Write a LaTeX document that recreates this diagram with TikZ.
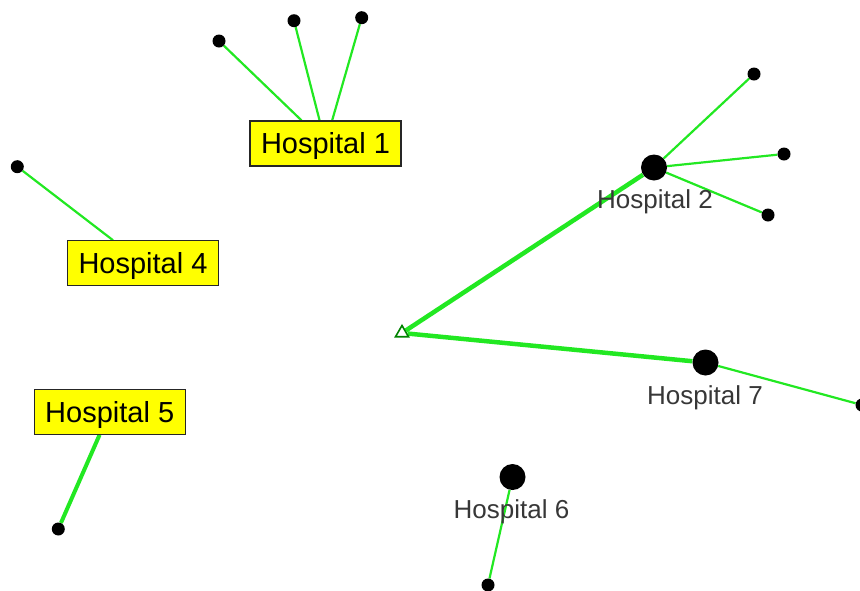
\documentclass[tikz,border=0pt]{standalone}
\usepackage{fontspec}
\setmainfont{Liberation Sans}
\usetikzlibrary{shapes.geometric,backgrounds}
\definecolor{edgegreen}{RGB}{34,232,34}
\definecolor{rootgreen}{RGB}{0,130,0}
\definecolor{labelgray}{RGB}{55,55,55}
\definecolor{boxyellow}{RGB}{255,255,0}
\tikzset{
  site/.style={circle, fill=black, inner sep=0pt, minimum size=13pt},
  hub/.style={circle, fill=black, inner sep=0pt, minimum size=26pt},
  hublabel/.style={text=labelgray, font=\fontsize{26}{30}\selectfont, inner sep=0pt, anchor=base},
  hubbox/.style={draw=black!85, line width=1.2pt, fill=boxyellow,
    font=\fontsize{29}{34}\selectfont, text height=20.8pt, text depth=0pt,
    minimum width=151pt, minimum height=45pt, inner sep=0pt},
  link/.style={draw=edgegreen, line width=2.2pt},
  trunk/.style={draw=edgegreen, line width=4.5pt},
  depot/.style={regular polygon, regular polygon sides=3, draw=rootgreen, fill=white,
    line width=1.6pt, inner sep=0pt, minimum size=15pt}
}
\begin{document}
\begin{tikzpicture}[x=1pt, y=-1pt]
  \useasboundingbox (0,0) rectangle (860,590);

  % depot
  \node[depot] (root) at (402,333) {};

  % boxed hospitals
  \node[hubbox] (h1) at (325.5,143.5) {Hospital 1};
  \node[hubbox] (h4) at (143,263.3) {Hospital 4};
  \node[hubbox] (h5) at (109.7,411.7) {Hospital 5};

  % hospitals shown as large dots
  \node[hub] (h2) at (654,167.5) {};
  \node[hub] (h7) at (705.5,362.5) {};
  \node[hub] (h6) at (512.5,477) {};
  \node[hublabel] (h2l) at (655,208) {Hospital 2};
  \node[hublabel] (h7l) at (705,404) {Hospital 7};
  \node[hublabel] (h6l) at (511.5,518) {Hospital 6};

  % served sites
  \node[site] (s11) at (219,41) {};
  \node[site] (s12) at (294,20.7) {};
  \node[site] (s13) at (361.7,17.7) {};
  \node[site] (s41) at (17.3,166.7) {};
  \node[site] (s51) at (58.3,529) {};
  \node[site] (s21) at (754,74) {};
  \node[site] (s22) at (784,154) {};
  \node[site] (s23) at (768,215) {};
  \node[site] (s71) at (862,405) {};
  \node[site] (s61) at (488,585) {};

  \begin{pgfonlayer}{background}
    \draw[trunk] (root) -- (h2);
    \draw[trunk] (root) -- (h7);
    \draw[link, line width=4pt] (h5) -- (s51);
    \draw[link] (h1) -- (s11);
    \draw[link] (h1) -- (s12);
    \draw[link] (h1) -- (s13);
    \draw[link] (h4) -- (s41);
    \draw[link] (h2) -- (s21);
    \draw[link] (h2) -- (s22);
    \draw[link] (h2) -- (s23);
    \draw[link] (h7) -- (s71);
    \draw[link] (h6) -- (s61);
  \end{pgfonlayer}
\end{tikzpicture}
\end{document}
